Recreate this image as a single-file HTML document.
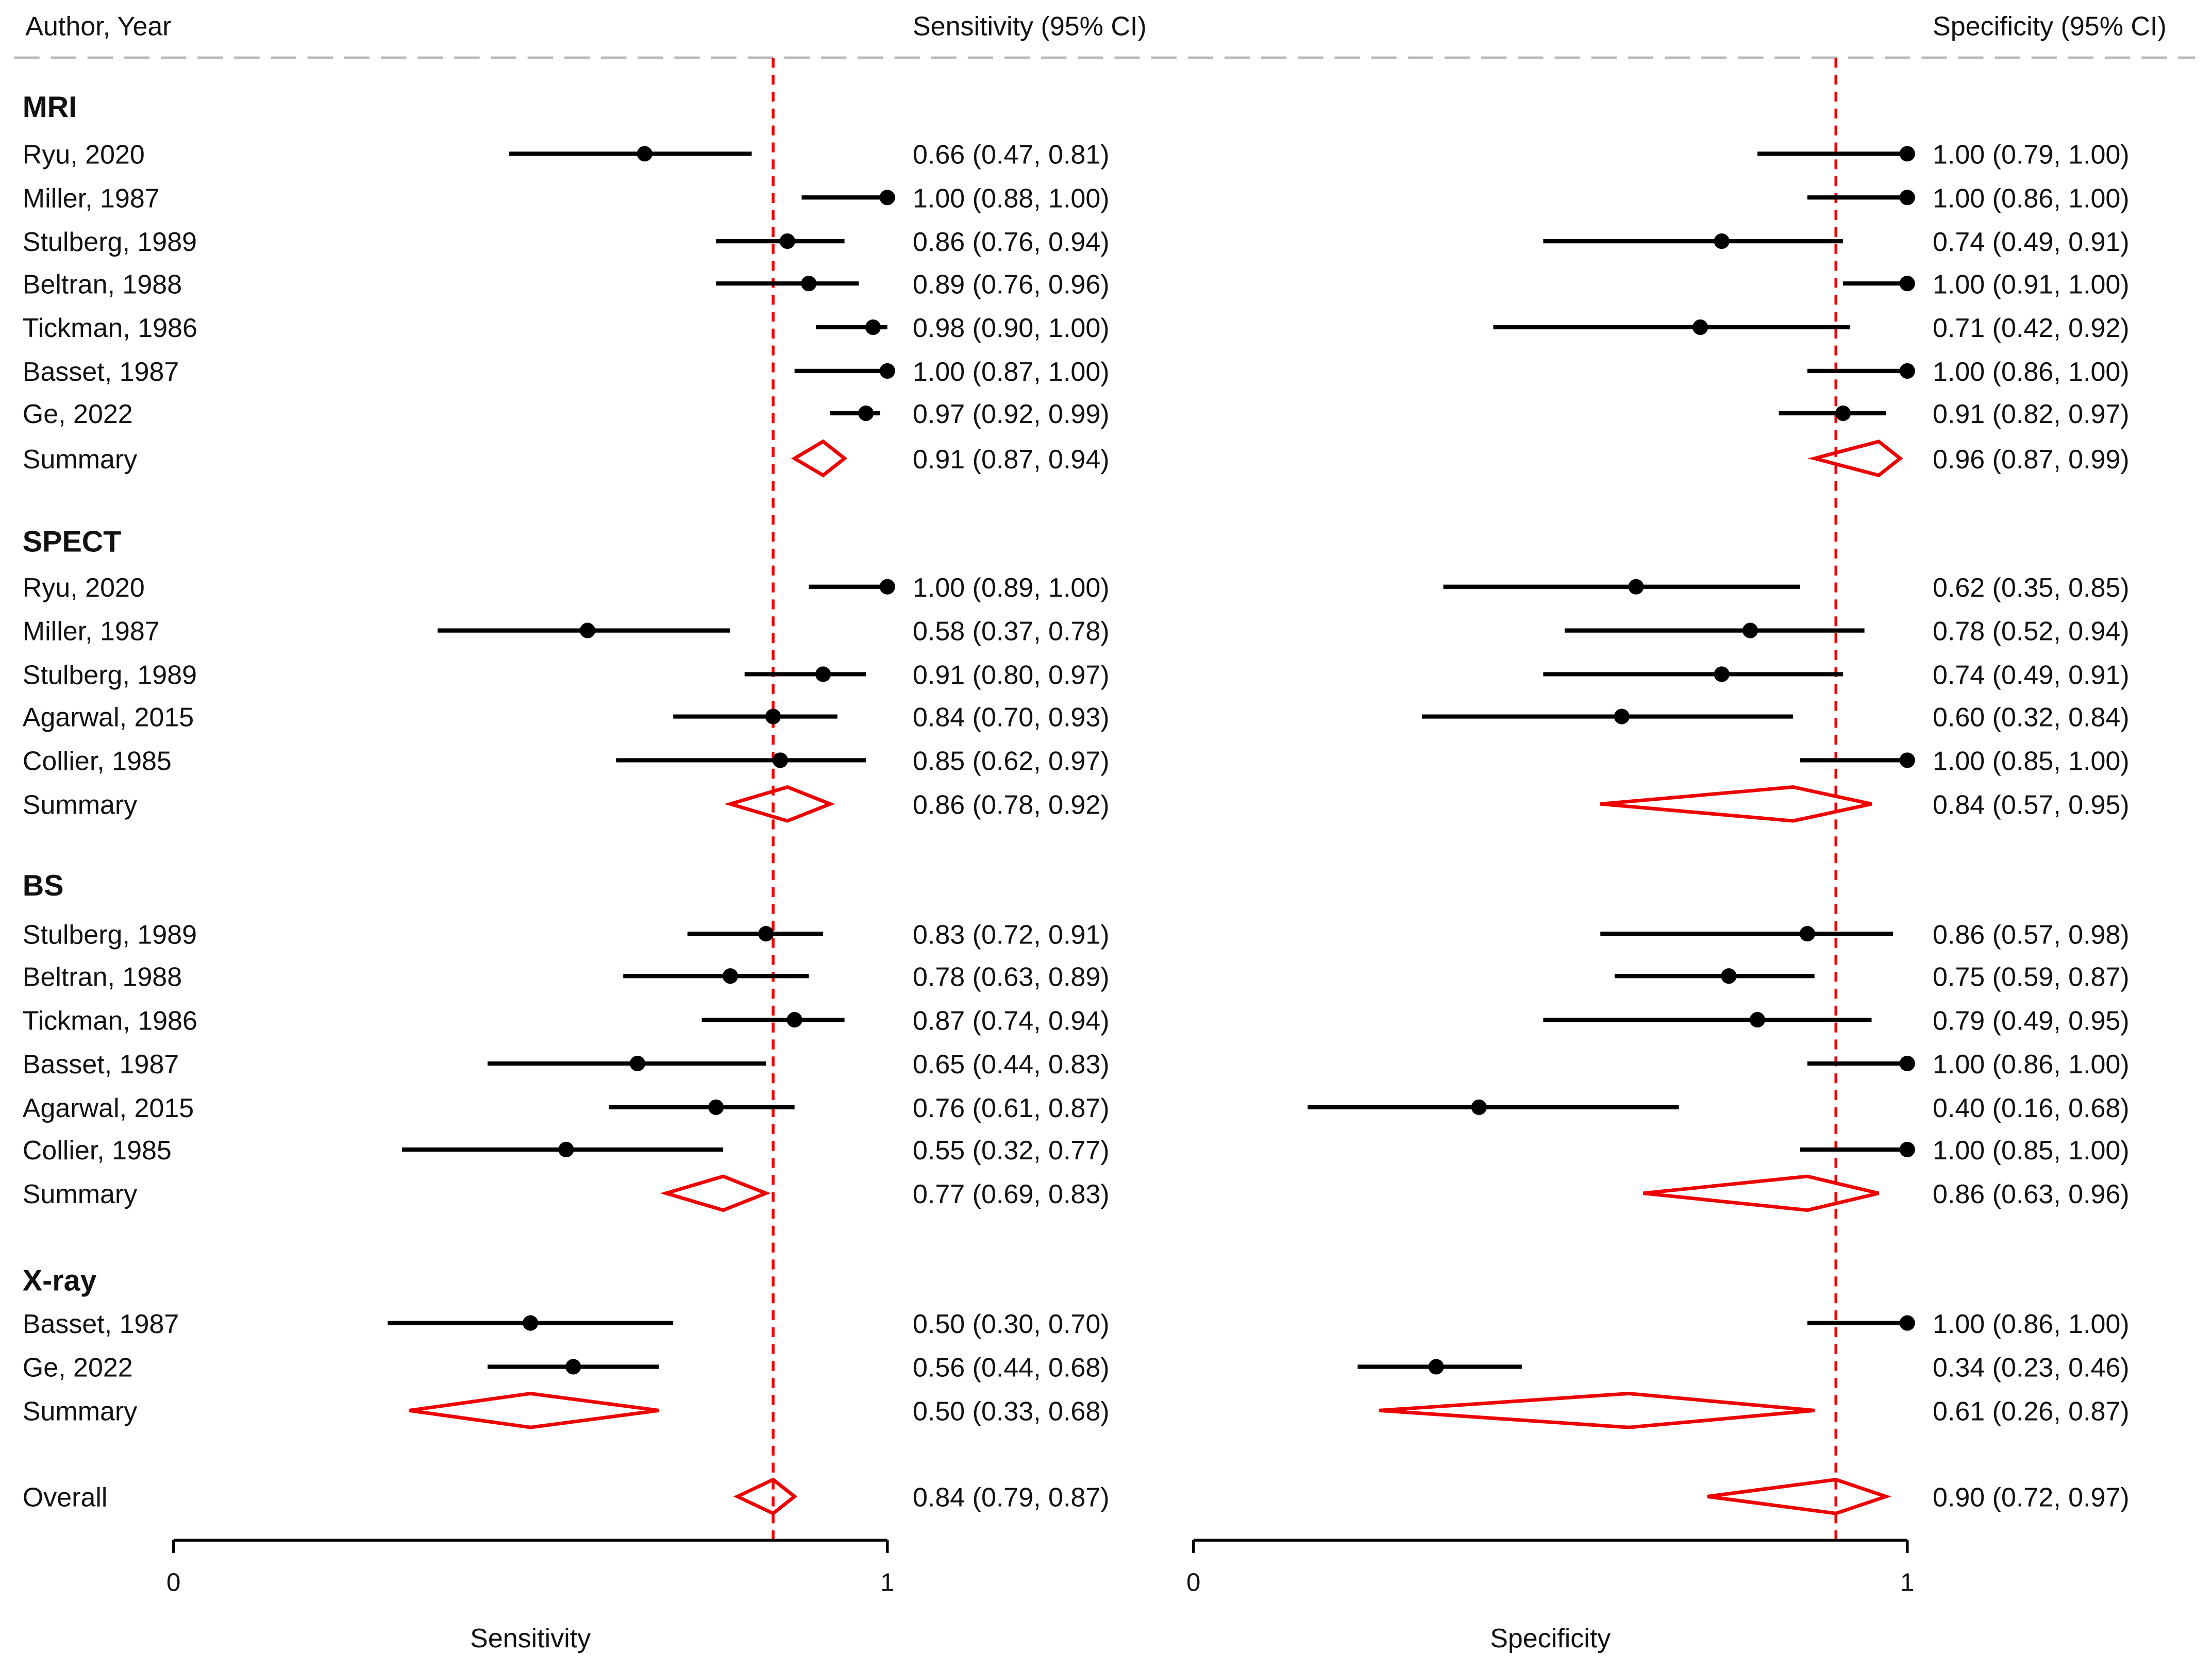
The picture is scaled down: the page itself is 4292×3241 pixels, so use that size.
<!DOCTYPE html>
<html><head><meta charset="utf-8">
<style>
html,body{margin:0;padding:0;background:#fff;}
svg{display:block;}
text{font-family:"Liberation Sans",Arial,sans-serif;fill:#111;}
</style></head>
<body>
<svg id="chart" width="4292" height="3241" viewBox="0 0 1568 1184" preserveAspectRatio="none" xmlns="http://www.w3.org/2000/svg">
<text x="18" y="25" font-size="19" fill="#333">Author, Year</text>
<text x="647" y="25" font-size="19">Sensitivity (95% CI)</text>
<text x="1370" y="25" font-size="19">Specificity (95% CI)</text>
<line x1="10" x2="1556" y1="41" y2="41" stroke="#bbb" stroke-width="2" stroke-dasharray="18,8"/>
<g id="marks"></g>
</svg>
<script>
const rowLabels=["MRI","Ryu, 2020","Miller, 1987","Stulberg, 1989","Beltran, 1988","Tickman, 1986","Basset, 1987","Ge, 2022","Summary",
"SPECT","Ryu, 2020","Miller, 1987","Stulberg, 1989","Agarwal, 2015","Collier, 1985","Summary",
"BS","Stulberg, 1989","Beltran, 1988","Tickman, 1986","Basset, 1987","Agarwal, 2015","Collier, 1985","Summary",
"X-ray","Basset, 1987","Ge, 2022","Summary","Overall"];
const rowTypes=["g","s","s","s","s","s","s","s","d","g","s","s","s","s","s","d","g","s","s","s","s","s","s","d","g","s","s","d","d"];
const rowY=[76,109,140,171,201,232,263,293,325,384,416,447,478,508,539,570,628,662,692,723,754,785,815,846,908,938,969,1000,1061];
const sens=[null,0.66,1.00,0.86,0.89,0.98,1.00,0.97,0.91,null,1.00,0.58,0.91,0.84,0.85,0.86,null,0.83,0.78,0.87,0.65,0.76,0.55,0.77,null,0.50,0.56,0.50,0.84];
const sensLo=[null,0.47,0.88,0.76,0.76,0.90,0.87,0.92,0.87,null,0.89,0.37,0.80,0.70,0.62,0.78,null,0.72,0.63,0.74,0.44,0.61,0.32,0.69,null,0.30,0.44,0.33,0.79];
const sensHi=[null,0.81,1.00,0.94,0.96,1.00,1.00,0.99,0.94,null,1.00,0.78,0.97,0.93,0.97,0.92,null,0.91,0.89,0.94,0.83,0.87,0.77,0.83,null,0.70,0.68,0.68,0.87];
const spec=[null,1.00,1.00,0.74,1.00,0.71,1.00,0.91,0.96,null,0.62,0.78,0.74,0.60,1.00,0.84,null,0.86,0.75,0.79,1.00,0.40,1.00,0.86,null,1.00,0.34,0.61,0.90];
const specLo=[null,0.79,0.86,0.49,0.91,0.42,0.86,0.82,0.87,null,0.35,0.52,0.49,0.32,0.85,0.57,null,0.57,0.59,0.49,0.86,0.16,0.85,0.63,null,0.86,0.23,0.26,0.72];
const specHi=[null,1.00,1.00,0.91,1.00,0.92,1.00,0.97,0.99,null,0.85,0.94,0.91,0.84,1.00,0.95,null,0.98,0.87,0.95,1.00,0.68,1.00,0.96,null,1.00,0.46,0.87,0.97];
const sensRef=0.84, specRef=0.90;
const axisTicks=[0,1];

const NS="http://www.w3.org/2000/svg";
const g=document.getElementById('marks');
function el(t,a){const e=document.createElementNS(NS,t);for(const k in a)e.setAttribute(k,a[k]);g.appendChild(e);return e;}
const xS=v=>123+v*506, xP=v=>846+v*506;
const f=v=>v.toFixed(2);
const axisY=1092;

let e=el('line',{x1:xS(sensRef),x2:xS(sensRef),y1:41,y2:axisY,stroke:'#e00',"stroke-width":2,"stroke-dasharray":"7,5"});


e=el('line',{x1:xP(specRef),x2:xP(specRef),y1:41,y2:axisY,stroke:'#e00',"stroke-width":2,"stroke-dasharray":"7,5"});



for(let i=0;i<rowLabels.length;i++){
  const y=rowY[i], t=rowTypes[i];
  const lab=el('text',{x:16,y:y+7,"font-size":t==='g'?21:19,"font-weight":t==='g'?'bold':'normal'});
  lab.textContent=rowLabels[i];
  
  
  if(t==='g')continue;
  const panels=[[xS,sens,sensLo,sensHi,647,'sensitivity'],[xP,spec,specLo,specHi,1370,'specificity']];
  for(const [X,v,lo,hi,tx,nm] of panels){
    if(t==='s'){
      const l=el('line',{x1:X(lo[i]),x2:X(hi[i]),y1:y,y2:y,stroke:'#000',"stroke-width":3});
      
      
      const c=el('circle',{cx:X(v[i]),cy:y,r:5.5,fill:'#000'});
      
      
    } else {
      const p=el('polygon',{points:`${X(lo[i])},${y} ${X(v[i])},${y-12} ${X(hi[i])},${y} ${X(v[i])},${y+12}`,fill:'none',stroke:'#e00',"stroke-width":2.5});
      
      
    }
    const tt=el('text',{x:tx,y:y+7,"font-size":19});
    tt.textContent=`${f(v[i])} (${f(lo[i])}, ${f(hi[i])})`;
    
    
  }
}
for(const [X,title,nm] of [[xS,'Sensitivity','sensitivity'],[xP,'Specificity','specificity']]){
  const a=el('line',{x1:X(0),x2:X(1),y1:axisY,y2:axisY,stroke:'#000',"stroke-width":2});
  
  
  for(const tk of axisTicks){
    const l=el('line',{x1:X(tk),x2:X(tk),y1:axisY,y2:axisY+9,stroke:'#000',"stroke-width":2});
    
    
    const tl=el('text',{x:X(tk),y:axisY+36,"font-size":18,"text-anchor":"middle"});
    tl.textContent=String(tk);
    
    
  }
  const at=el('text',{x:X(0.5),y:axisY+76,"font-size":19,"text-anchor":"middle"});
  at.textContent=title;
  
  
}
</script>
</body></html>
